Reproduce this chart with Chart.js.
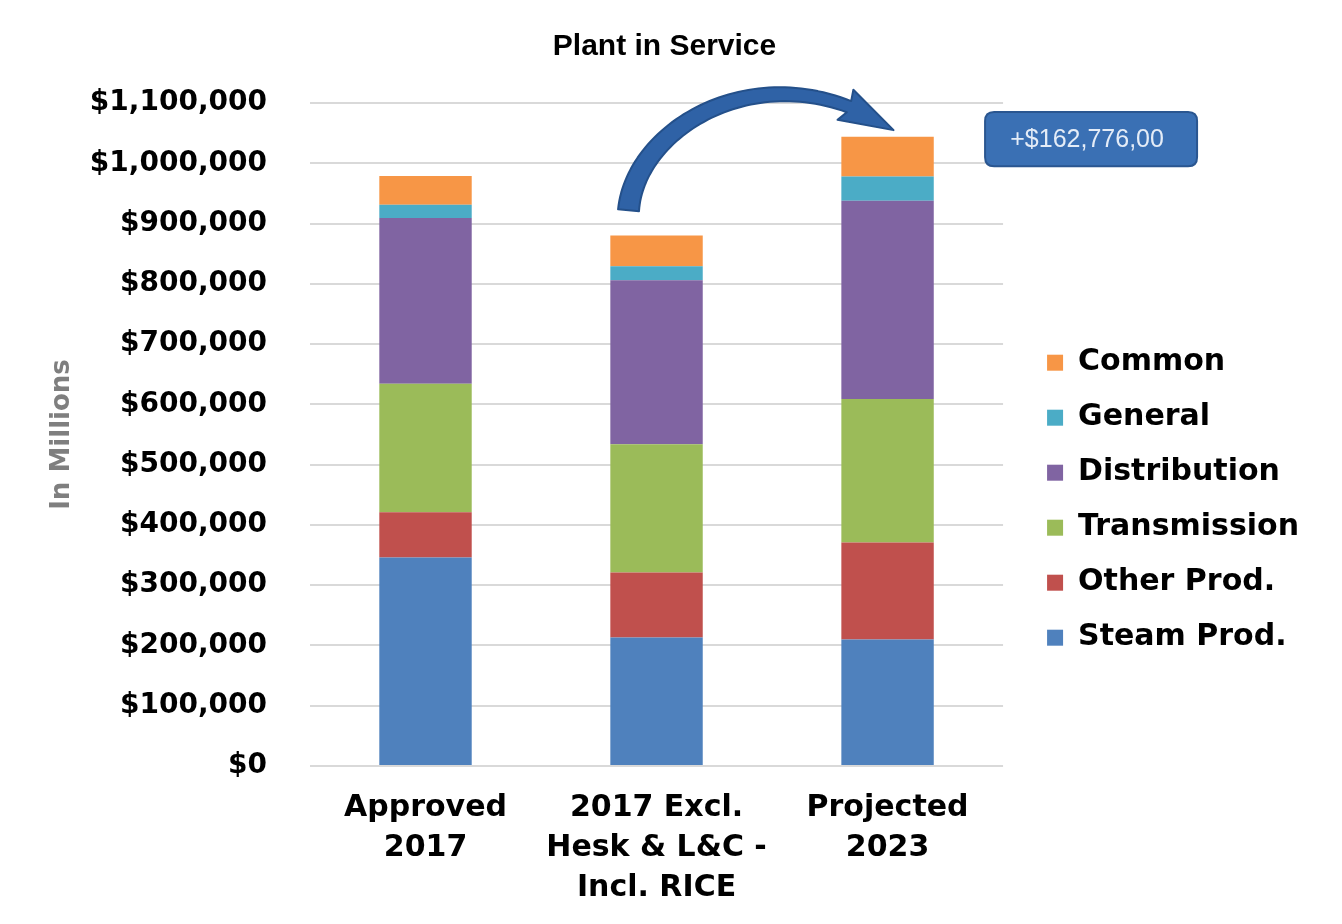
<!DOCTYPE html>
<html>
<head>
<meta charset="utf-8">
<script src="https://cdn.jsdelivr.net/npm/chart.js@4.4.1/dist/chart.umd.min.js"></script>
<style>
  html, body { margin: 0; padding: 0; background: #ffffff; }
  #wrap { width: 1342px; height: 924px; position: relative; }
</style>
</head>
<body>
<div id="wrap"><canvas id="c" width="1342" height="924"></canvas></div>
<script>
// ---- data ----
const categories = [
  ['Approved', '2017'],
  ['2017 Excl.', 'Hesk & L&C -', 'Incl. RICE'],
  ['Projected', '2023']
];
const steamProd    = [346000, 213000, 210000];
const otherProd    = [75000, 108000, 161000];
const transmission = [213000, 213000, 238000];
const distribution = [275000, 272000, 329000];
const general      = [22000, 23000, 40000];
const common       = [48000, 51000, 66000];
const seriesNames  = ['Steam Prod.', 'Other Prod.', 'Transmission', 'Distribution', 'General', 'Common'];
const seriesColors = ['#4F81BD', '#C0504D', '#9BBB59', '#8064A2', '#4BACC6', '#F79646'];
const yTickLabels  = ['$0', '$100,000', '$200,000', '$300,000', '$400,000', '$500,000',
                      '$600,000', '$700,000', '$800,000', '$900,000', '$1,000,000', '$1,100,000'];
const chartTitle   = 'Plant in Service';
const yAxisTitle   = 'In Millions';
const calloutText  = '+$162,776,00';

const seriesValues = [steamProd, otherProd, transmission, distribution, general, common];
const BOLD = "'DejaVu Sans', sans-serif";

// decorative arrow + callout drawn relative to the scales
const annotationPlugin = {
  id: 'arrowCallout',
  afterDatasetsDraw(chart) {
    const ctx = chart.ctx;
    const xs = chart.scales.x, ys = chart.scales.y;
    const x1 = xs.getPixelForValue(1), x2 = xs.getPixelForValue(2);
    const P0 = {x: x1 - 28, y: ys.getPixelForValue(922000)};
    const P1 = {x: x1 - 21, y: ys.getPixelForValue(1065000)};
    const P2 = {x: x1 + 114, y: ys.getPixelForValue(1194000)};
    const P3 = {x: x2 + 6, y: ys.getPixelForValue(1055000)};
    const bz = (t) => {
      const u = 1 - t;
      return {
        x: u*u*u*P0.x + 3*u*u*t*P1.x + 3*u*t*t*P2.x + t*t*t*P3.x,
        y: u*u*u*P0.y + 3*u*u*t*P1.y + 3*u*t*t*P2.y + t*t*t*P3.y
      };
    };
    const tEnd = 0.88;
    const N = 60;
    const left = [], right = [];
    for (let i = 0; i <= N; i++) {
      const t = tEnd * i / N;
      const p = bz(t), q = bz(Math.min(t + 0.005, 1));
      let dx = q.x - p.x, dy = q.y - p.y;
      const len = Math.hypot(dx, dy) || 1;
      dx /= len; dy /= len;
      const w = (21 - 9 * (t / tEnd)) / 2;
      left.push({x: p.x - dy * w, y: p.y + dx * w});
      right.push({x: p.x + dy * w, y: p.y - dx * w});
    }
    const base = bz(tEnd);
    let hx = P3.x - base.x, hy = P3.y - base.y;
    const hl = Math.hypot(hx, hy); hx /= hl; hy /= hl;
    const hw = 17;
    ctx.save();
    ctx.beginPath();
    ctx.moveTo(left[0].x, left[0].y);
    left.forEach(p => ctx.lineTo(p.x, p.y));
    ctx.lineTo(base.x - hy * hw - hx * 4, base.y + hx * hw - hy * 4);
    ctx.lineTo(P3.x, P3.y);
    ctx.lineTo(base.x + hy * hw - hx * 4, base.y - hx * hw - hy * 4);
    for (let i = right.length - 1; i >= 0; i--) ctx.lineTo(right[i].x, right[i].y);
    ctx.closePath();
    ctx.fillStyle = '#2F62A6';
    ctx.strokeStyle = '#24508A';
    ctx.lineWidth = 2;
    ctx.lineJoin = 'round';
    ctx.fill();
    ctx.stroke();

    // callout box
    const bx = chart.chartArea.right - 18;
    const by = ys.getPixelForValue(1085000);
    const bw = 212;
    const bh = ys.getPixelForValue(995000) - by;
    const r = 9;
    ctx.beginPath();
    ctx.moveTo(bx + r, by);
    ctx.lineTo(bx + bw - r, by);
    ctx.quadraticCurveTo(bx + bw, by, bx + bw, by + r);
    ctx.lineTo(bx + bw, by + bh - r);
    ctx.quadraticCurveTo(bx + bw, by + bh, bx + bw - r, by + bh);
    ctx.lineTo(bx + r, by + bh);
    ctx.quadraticCurveTo(bx, by + bh, bx, by + bh - r);
    ctx.lineTo(bx, by + r);
    ctx.quadraticCurveTo(bx, by, bx + r, by);
    ctx.closePath();
    ctx.fillStyle = '#3A70B4';
    ctx.fill();
    ctx.strokeStyle = '#2A5690';
    ctx.lineWidth = 2;
    ctx.stroke();
    ctx.fillStyle = '#E4ECF7';
    ctx.font = "25px 'Liberation Sans', Arial, sans-serif";
    ctx.textAlign = 'center';
    ctx.textBaseline = 'middle';
    ctx.fillText(calloutText, bx + bw / 2 - 4, by + bh / 2 + 1);
    ctx.restore();
  }
};

Chart.defaults.color = '#000000';
new Chart(document.getElementById('c'), {
  type: 'bar',
  data: {
    labels: categories,
    datasets: seriesNames.map((name, i) => ({
      label: name,
      data: seriesValues[i],
      backgroundColor: seriesColors[i],
      borderWidth: 0,
      barPercentage: 0.4,
      categoryPercentage: 1.0
    }))
  },
  options: {
    responsive: false,
    animation: false,
    layout: { padding: { left: 20, right: 33, top: 0, bottom: 0 } },
    plugins: {
      title: {
        display: true,
        text: chartTitle,
        color: '#000000',
        font: { family: "'Liberation Sans', Arial, sans-serif", size: 30, weight: 'bold', lineHeight: 1.2 },
        padding: { top: 29, bottom: 38 }
      },
      legend: {
        display: true,
        position: 'right',
        reverse: true,
        align: 'center',
        title: { display: true, text: ' ', font: { size: 12, lineHeight: 1.2 }, padding: { top: 62, bottom: 0 } },
        labels: {
          boxWidth: 16,
          boxHeight: 16,
          padding: 25,
          color: '#000000',
          font: { family: BOLD, size: 30, weight: 'bold' }
        }
      },
      tooltip: { enabled: false }
    },
    scales: {
      x: {
        stacked: true,
        grid: { display: false, drawTicks: false },
        border: { display: false },
        ticks: {
          color: '#000000',
          padding: 22,
          maxRotation: 0,
          autoSkip: false,
          font: { family: BOLD, size: 30, weight: 'bold', lineHeight: 1.333 }
        },
        afterFit: (s) => { s.height = 158; }
      },
      y: {
        stacked: true,
        min: 0,
        max: 1100000,
        grid: { color: '#D9D9D9', lineWidth: 2, drawTicks: false },
        border: { display: false },
        ticks: {
          stepSize: 100000,
          color: '#000000',
          padding: 43,
          font: { family: BOLD, size: 28, weight: 'bold' },
          callback: (v, i) => yTickLabels[i]
        },
        title: {
          display: true,
          text: yAxisTitle,
          color: '#7F7F7F',
          font: { family: BOLD, size: 26, weight: 'bold', lineHeight: 1.2 },
          padding: { top: 27, bottom: 9 }
        },
        afterFit: (s) => { s.width = 290; }
      },
      gap: {
        position: 'right',
        display: false,
        afterFit: (s) => { s.width = 19; }
      }
    }
  },
  plugins: [annotationPlugin]
});
</script>
</body>
</html>
